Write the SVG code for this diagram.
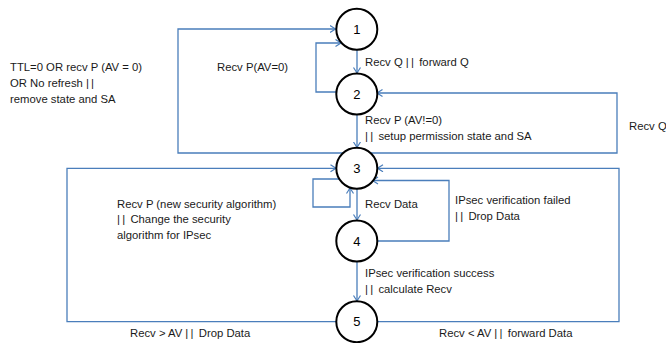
<svg xmlns="http://www.w3.org/2000/svg" width="666" height="343" viewBox="0 0 666 343">
  <style>
    .state circle { fill: #ffffff; stroke: #000000; stroke-width: 2; }
    .state text { font-family: "Liberation Sans", Arial, sans-serif; font-size: 13px; fill: #000000; text-anchor: middle; }
    .edge { fill: none; stroke: #4a7ebb; stroke-width: 1.3; marker-end: url(#open); }
    .lbl { font-family: "Liberation Sans", Arial, sans-serif; font-size: 11.3px; fill: #1a1a1a; }
    .bar { letter-spacing: 2.2px; }
  </style>
  <defs>
    <marker id="open" markerUnits="userSpaceOnUse" markerWidth="10" markerHeight="10" refX="6" refY="4" orient="auto">
      <path d="M0.5,0.5 L6,4 L0.5,7.5" fill="none" stroke="#4a7ebb" stroke-width="1.2"/>
    </marker>
  </defs>

  <rect width="666" height="343" fill="#ffffff"/>

  <!-- transitions -->
  <g id="connectors">
    <path class="edge" d="M343,153 H178 V29 H335.5"/>
    <path class="edge" d="M336,92 H316 V43 H341"/>
    <path class="edge" d="M357,50 V73"/>
    <path class="edge" d="M357,114.5 V147.5"/>
    <path class="edge" d="M370.3,153 H617 V93 H377"/>
    <path class="edge" d="M377.5,321.7 H619 V168.3 H377.5"/>
    <path class="edge" d="M336,321.7 H67 V168.3 H336"/>
    <path class="edge" d="M339,179 H313 V207 H350 V188"/>
    <path class="edge" d="M357,189 V220"/>
    <path class="edge" d="M377.5,241 H449 V180.5 H372.5"/>
    <path class="edge" d="M357,261.5 V301"/>
  </g>

  <!-- transition labels -->
  <g id="labels">
    <text class="lbl" x="10" y="71">TTL=0 OR recv P (AV = 0)</text>
    <text class="lbl" x="10" y="87">OR No refresh <tspan class="bar">||</tspan></text>
    <text class="lbl" x="10" y="102.5">remove state and SA</text>
    <text class="lbl" x="217" y="70.5">Recv P(AV=0)</text>
    <text class="lbl" x="365" y="66">Recv Q <tspan class="bar">||</tspan> forward Q</text>
    <text class="lbl" x="365" y="124">Recv P (AV!=0)</text>
    <text class="lbl" x="365" y="140"><tspan class="bar">||</tspan> setup permission state and SA</text>
    <text class="lbl" x="629" y="130">Recv Q</text>
    <text class="lbl" x="117" y="208">Recv P (new security algorithm)</text>
    <text class="lbl" x="117" y="223"><tspan class="bar">||</tspan> Change the security</text>
    <text class="lbl" x="117" y="238.5">algorithm for IPsec</text>
    <text class="lbl" x="365" y="207.5">Recv Data</text>
    <text class="lbl" x="455" y="203.5">IPsec verification failed</text>
    <text class="lbl" x="455" y="220"><tspan class="bar">||</tspan> Drop Data</text>
    <text class="lbl" x="365" y="276.5">IPsec verification success</text>
    <text class="lbl" x="365" y="293"><tspan class="bar">||</tspan> calculate Recv</text>
    <text class="lbl" x="130" y="337">Recv &gt; AV <tspan class="bar">||</tspan> Drop Data</text>
    <text class="lbl" x="439" y="337">Recv &lt; AV <tspan class="bar">||</tspan> forward Data</text>
  </g>

  <!-- states -->
  <g id="state1" class="state"><circle cx="356.8" cy="29.3" r="20.5"/><text x="356.8" y="34">1</text></g>
  <g id="state2" class="state"><circle cx="356.8" cy="94" r="20.5"/><text x="356.8" y="98.7">2</text></g>
  <g id="state3" class="state"><circle cx="356.8" cy="168.3" r="20.5"/><text x="356.8" y="173">3</text></g>
  <g id="state4" class="state"><circle cx="356.8" cy="241" r="20.5"/><text x="356.8" y="245.7">4</text></g>
  <g id="state5" class="state"><circle cx="356.8" cy="321.7" r="20.5"/><text x="356.8" y="326.4">5</text></g>
</svg>
